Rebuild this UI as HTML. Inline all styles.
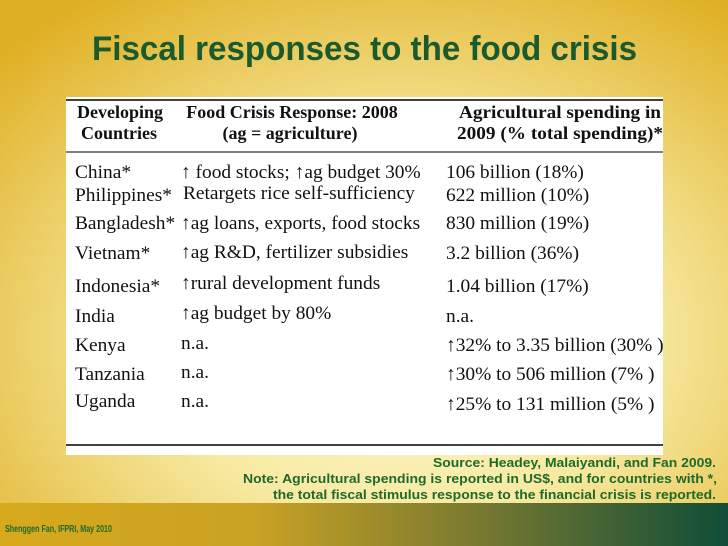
<!DOCTYPE html>
<html><head><meta charset="utf-8"><style>
html,body{margin:0;padding:0;width:728px;height:546px;overflow:hidden}
</style></head><body>
<svg width="728" height="546" viewBox="0 0 728 546" xmlns="http://www.w3.org/2000/svg">
<defs>
<radialGradient id="bg" cx="0.55" cy="0.62" r="0.75">
<stop offset="0" stop-color="#fffbd6"/><stop offset="0.45" stop-color="#f7e9a0"/><stop offset="1" stop-color="#dfb024"/>
</radialGradient>
<linearGradient id="band" x1="0" x2="1" y1="0" y2="0">
<stop offset="0" stop-color="#d7a91c"/><stop offset="0.35" stop-color="#c9a224"/><stop offset="0.65" stop-color="#7a7a30"/><stop offset="1" stop-color="#0f4d38"/>
</linearGradient>
</defs>
<rect width="728" height="546" fill="url(#bg)"/>
<rect y="503" width="728" height="43" fill="url(#band)"/>
<text x="92" y="60" font-family="Liberation Sans, sans-serif" font-weight="bold" font-size="34" fill="#1a5a2c" textLength="545" lengthAdjust="spacingAndGlyphs">Fiscal responses to the food crisis</text>
<g>
<rect x="66" y="97" width="597" height="358" fill="#fff"/>
<line x1="66" x2="663" y1="100" y2="100" stroke="#000" stroke-width="1.5"/>
<line x1="66" x2="663" y1="152" y2="152" stroke="#000" stroke-width="1"/>
<line x1="66" x2="663" y1="445" y2="445" stroke="#000" stroke-width="1.5"/>
<g font-family="Liberation Serif, serif" font-weight="bold" font-size="18" fill="#111" text-anchor="middle">
<text x="120" y="118">Developing</text>
<text x="119" y="139">Countries</text>
<text x="292" y="118">Food Crisis Response: 2008</text>
<text x="290" y="139">(ag = agriculture)</text>
<text x="560" y="118" textLength="202" lengthAdjust="spacingAndGlyphs">Agricultural spending in</text>
<text x="560" y="139" textLength="206" lengthAdjust="spacingAndGlyphs">2009 (% total spending)*</text>
</g>
<g font-family="Liberation Serif, serif" font-size="19.4" fill="#111">
<text x="75" y="178">China*</text>
<text x="181" y="178">↑ food stocks; ↑ag budget 30%</text>
<text x="446" y="178">106 billion (18%)</text>
<text x="75" y="201">Philippines*</text>
<text x="183" y="199">Retargets rice self-sufficiency</text>
<text x="446" y="201">622 million (10%)</text>
<text x="75" y="229">Bangladesh*</text>
<text x="181" y="229">↑ag loans, exports, food stocks</text>
<text x="446" y="229">830 million (19%)</text>
<text x="75" y="259">Vietnam*</text>
<text x="181" y="258">↑ag R&amp;D, fertilizer subsidies</text>
<text x="446" y="259">3.2 billion (36%)</text>
<text x="75" y="292">Indonesia*</text>
<text x="181" y="289">↑rural development funds</text>
<text x="446" y="292">1.04 billion (17%)</text>
<text x="75" y="322">India</text>
<text x="181" y="319">↑ag budget by 80%</text>
<text x="446" y="322">n.a.</text>
<text x="75" y="351">Kenya</text>
<text x="181" y="349">n.a.</text>
<text x="446" y="351">↑32% to 3.35 billion (30% )</text>
<text x="75" y="380">Tanzania</text>
<text x="181" y="378">n.a.</text>
<text x="446" y="380">↑30% to 506 million (7% )</text>
<text x="75" y="407">Uganda</text>
<text x="181" y="407">n.a.</text>
<text x="446" y="410">↑25% to 131 million (5% )</text>
</g>
</g>
<g font-family="Liberation Sans, sans-serif" font-weight="bold" font-size="13" fill="#1e6a2c">
<text x="433" y="467" textLength="283" lengthAdjust="spacingAndGlyphs">Source: Headey, Malaiyandi, and Fan 2009.</text>
<text x="243" y="483" textLength="474" lengthAdjust="spacingAndGlyphs">Note: Agricultural spending is reported in US$, and for countries with *,</text>
<text x="273" y="499" textLength="443" lengthAdjust="spacingAndGlyphs">the total fiscal stimulus response to the financial crisis is reported.</text>
</g>
<text x="5" y="532" font-family="Liberation Sans, sans-serif" font-weight="bold" font-size="10" fill="#1e6a2c" textLength="107" lengthAdjust="spacingAndGlyphs">Shenggen Fan, IFPRI, May 2010</text>
</svg>
</body></html>
